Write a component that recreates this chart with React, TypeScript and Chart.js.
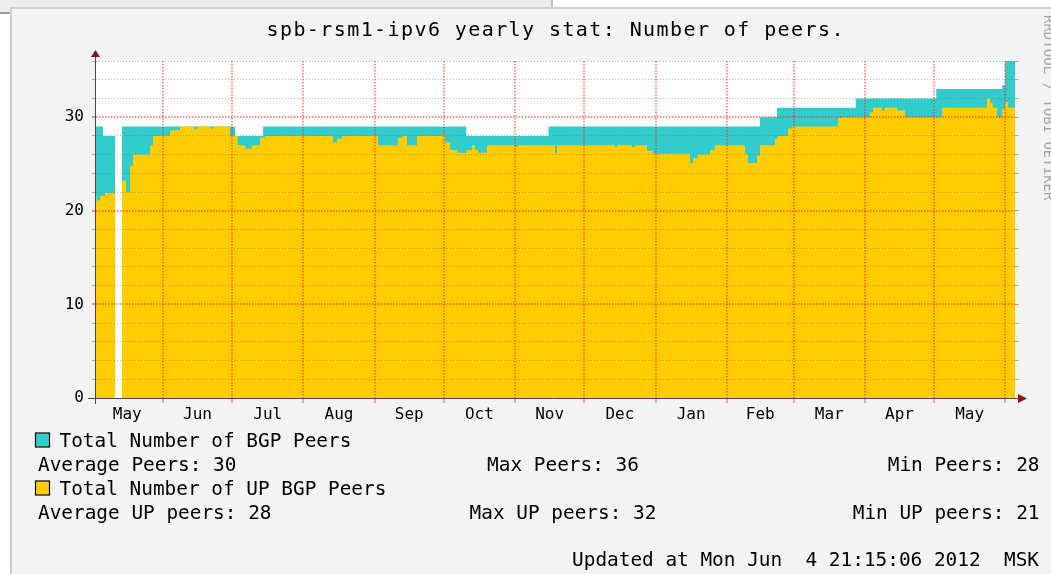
import React, { useEffect, useRef } from 'react';
import { Chart, registerables } from 'chart.js';

Chart.register(...registerables);

// ---------- data (days counted from 1 May 2011) ----------
const TITLE = 'spb-rsm1-ipv6 yearly stat: Number of peers.';
const MONTH_LABELS = ['May', 'Jun', 'Jul', 'Aug', 'Sep', 'Oct', 'Nov', 'Dec', 'Jan', 'Feb', 'Mar', 'Apr', 'May'];
const MONTH_STARTS = [0, 31, 61, 92, 123, 153, 184, 214, 245, 276, 305, 336, 366, 397];
const RANGE_START = 1.9;
const RANGE_END = 401.2;

const Y_MAX = 36;
const Y_STEP = 2;
const Y_LABEL_EVERY = 10;

const TOTAL_LABEL = 'Total Number of BGP Peers';
const TOTAL_DAYS = [1.9, 4.9, 10.2, 13.2, 62.3, 74.5, 162.8, 198.5, 290.4, 297.8, 332.0, 367.0, 395.6, 396.9];
const TOTAL_PEERS = [29, 28, null, 29, 28, 29, 28, 29, 30, 31, 32, 33, 33.4, 36];

const UP_LABEL = 'Total Number of UP BGP Peers';
const UP_DAYS = [
  1.9, 2.2, 3.7, 5.8, 10.2, 13.2, 14.9, 16.7, 18.0, 25.4, 26.7, 34.1, 38.4, 44.5, 46.0, 51.5, 53.0,
  60.1, 63.4, 66.9, 69.5, 73.2, 75.3, 104.9, 106.6, 108.8, 124.4, 133.1, 134.9, 137.0, 141.4,
  153.5, 155.7, 158.8, 163.1, 165.3, 166.6, 167.9, 171.8, 184.0, 185.3, 201.3, 202.2, 227.4, 228.3,
  234.8, 236.1, 241.3, 243.9, 260.0, 261.3, 263.5, 268.7, 270.8, 283.9, 285.2, 289.1, 290.4, 296.9,
  298.2, 302.6, 304.3, 324.3, 326.0, 338.2, 339.5, 343.4, 344.7, 349.9, 353.4, 369.5, 389.0, 390.3,
  391.6, 393.4, 395.6, 396.9, 398.2,
];
const UP_PEERS = [
  22, 21.1, 21.6, 21.9, null, 23.2, 22, 24.8, 26, 27, 28, 28.6, 29, 28.7, 29, 28.8, 29,
  28, 27, 26.6, 27, 27.8, 28, 27.3, 27.7, 28, 27, 27.8, 28, 27, 28,
  27.3, 26.5, 26.2, 26.5, 27, 26.5, 26.2, 27, 26.8, 27, 26.2, 27, 26.8, 27,
  26.8, 27, 26.4, 26.1, 25.1, 25.6, 26, 26.5, 27, 26, 25.1, 25.9, 27, 27.7,
  28, 28.8, 29, 29.9, 30, 30.5, 31, 30.7, 31, 30.7, 30, 31, 32, 31.5,
  31, 30, 30.9, 31.6, 31,
];

const TOTAL_STATS = ['Average Peers: 30', 'Max Peers: 36', 'Min Peers: 28'];
const UP_STATS = ['Average UP peers: 28', 'Max UP peers: 32', 'Min UP peers: 21'];
const UPDATED_TEXT = 'Updated at Mon Jun  4 21:15:06 2012  MSK';
const WATERMARK = 'RRDTOOL / TOBI OETIKER';

// ---------- styles ----------
const MONO = "'DejaVu Sans Mono', monospace";
const CYAN = '#33CCCC';
const YELLOW = '#FFCC00';
const RED_GRID = 'rgba(255,30,30,0.5)';
const GRAY_GRID = 'rgba(110,110,110,0.5)';
const AXIS_COLOR = '#4a4a4a';
const ARROW_COLOR = '#8c1414';

type Pt = { x: number; y: number | null };

function toSteps(days: number[], values: (number | null)[], end: number): Pt[] {
  const pts: Pt[] = [];
  for (let i = 0; i < days.length; i++) {
    const next = i + 1 < days.length ? days[i + 1] : end;
    const v = values[i];
    if (v === null) {
      pts.push({ x: days[i], y: null });
      continue;
    }
    pts.push({ x: days[i], y: v }, { x: next, y: v });
  }
  return pts;
}

const MONTH_MIDS = MONTH_STARTS.slice(0, -1).map((s, i) => (s + MONTH_STARTS[i + 1]) / 2);

const isMajor = (ctx: any) => {
  const v = ctx.tick ? ctx.tick.value : 0;
  return v % Y_LABEL_EVERY === 0;
};
const gridColor = (ctx: any) => {
  const v = ctx.tick ? ctx.tick.value : 0;
  if (v === 0) return 'rgba(0,0,0,0)';
  return isMajor(ctx) ? RED_GRID : GRAY_GRID;
};
const gridWidth = (ctx: any) => (isMajor(ctx) ? 2 : 1);
const gridDash = (ctx: any) => (isMajor(ctx) ? [1.5, 1.5] : [1, 2]);

const framePlugin = {
  id: 'frame',
  beforeDraw(chart: any) {
    const { ctx, chartArea: ca, width, height } = chart;
    ctx.save();
    ctx.fillStyle = '#ffffff';
    ctx.fillRect(0, 0, width, height);
    ctx.fillStyle = '#ededed';
    ctx.fillRect(0, 0, 552, 7);
    ctx.fillRect(0, 7, 10, 5);
    ctx.fillStyle = '#c4c4c4';
    ctx.fillRect(551, 0, 2, 7);
    ctx.fillStyle = '#9a9a9a';
    ctx.fillRect(0, 12, 10, 2);
    ctx.fillStyle = '#f3f3f3';
    ctx.fillRect(12, 9, width - 12, height - 9);
    ctx.fillStyle = '#d0d0d0';
    ctx.fillRect(10, 7, width - 10, 2);
    ctx.fillRect(10, 7, 2, height - 7);
    ctx.fillStyle = '#ffffff';
    ctx.fillRect(ca.left, ca.top, ca.right - ca.left, ca.bottom - ca.top);
    ctx.restore();
  },
  afterDraw(chart: any) {
    const { ctx, chartArea: ca } = chart;
    ctx.save();
    // axes
    ctx.strokeStyle = AXIS_COLOR;
    ctx.lineWidth = 1;
    ctx.beginPath();
    ctx.moveTo(ca.left - 0.5, ca.bottom + 6);
    ctx.lineTo(ca.left - 0.5, ca.top - 4);
    ctx.moveTo(ca.left - 8, ca.bottom + 0.5);
    ctx.lineTo(ca.right + 4, ca.bottom + 0.5);
    ctx.stroke();
    ctx.fillStyle = ARROW_COLOR;
    ctx.beginPath();
    ctx.moveTo(ca.left - 5, ca.top - 4);
    ctx.lineTo(ca.left + 4, ca.top - 4);
    ctx.lineTo(ca.left - 0.5, ca.top - 11);
    ctx.closePath();
    ctx.fill();
    ctx.beginPath();
    ctx.moveTo(ca.right + 3, ca.bottom - 4);
    ctx.lineTo(ca.right + 3, ca.bottom + 5);
    ctx.lineTo(ca.right + 12, ca.bottom + 0.5);
    ctx.closePath();
    ctx.fill();

    // title (wide monospaced cells)
    ctx.fillStyle = '#000';
    ctx.font = `20px ${MONO}`;
    ctx.textBaseline = 'alphabetic';
    ctx.textAlign = 'left';
    const adv = 13.45;
    for (let i = 0; i < TITLE.length; i++) {
      ctx.fillText(TITLE[i], 266.5 + i * adv, 36);
    }

    // legend
    const ds = chart.data.datasets;
    ctx.font = `19.4px ${MONO}`;
    const rows = [
      { color: ds[0].backgroundColor, label: ds[0].label, stats: TOTAL_STATS, y: 447 },
      { color: ds[1].backgroundColor, label: ds[1].label, stats: UP_STATS, y: 495 },
    ];
    rows.forEach((r) => {
      ctx.fillStyle = r.color;
      ctx.fillRect(36, r.y - 13.5, 13, 13);
      ctx.strokeStyle = '#000';
      ctx.lineWidth = 1.2;
      ctx.strokeRect(35.5, r.y - 14, 14, 14);
      ctx.fillStyle = '#000';
      ctx.textAlign = 'left';
      ctx.fillText(r.label, 59.5, r.y);
      const sy = r.y + 24;
      ctx.textAlign = 'left';
      ctx.fillText(r.stats[0], 38, sy);
      ctx.textAlign = 'center';
      ctx.fillText(r.stats[1], 563, sy);
      ctx.textAlign = 'right';
      ctx.fillText(r.stats[2], 1039.5, sy);
    });
    ctx.textAlign = 'right';
    ctx.fillText(UPDATED_TEXT, 1039, 566);

    // watermark
    ctx.translate(1044, 15);
    ctx.rotate(Math.PI / 2);
    ctx.font = `14px ${MONO}`;
    ctx.fillStyle = '#a6a6a6';
    ctx.textAlign = 'left';
    ctx.fillText(WATERMARK, 0, 0);
    ctx.restore();
  },
};

export default function App() {
  const ref = useRef<HTMLCanvasElement>(null);
  useEffect(() => {
    if (!ref.current) return;
    const chart = new Chart(ref.current, {
      type: 'line',
      data: {
        datasets: [
          {
            label: TOTAL_LABEL,
            data: toSteps(TOTAL_DAYS, TOTAL_PEERS, RANGE_END) as any,
            backgroundColor: CYAN,
            borderColor: CYAN,
            borderWidth: 0,
            pointRadius: 0,
            fill: 'origin',
            tension: 0,
            spanGaps: false,
            order: 2,
          },
          {
            label: UP_LABEL,
            data: toSteps(UP_DAYS, UP_PEERS, RANGE_END) as any,
            backgroundColor: YELLOW,
            borderColor: YELLOW,
            borderWidth: 0,
            pointRadius: 0,
            fill: 'origin',
            tension: 0,
            spanGaps: false,
            order: 1,
          },
        ],
      },
      options: {
        animation: false,
        responsive: false,
        devicePixelRatio: 1,
        events: [],
        layout: { padding: { top: 61, left: 0, right: 0, bottom: 0 } },
        plugins: { legend: { display: false }, tooltip: { enabled: false }, title: { display: false } },
        scales: {
          x: {
            type: 'linear',
            position: 'bottom',
            weight: 0,
            min: RANGE_START,
            max: RANGE_END,
            afterBuildTicks: (s: any) => {
              s.ticks = MONTH_STARTS.filter((v) => v >= RANGE_START && v <= RANGE_END).map((v) => ({ value: v }));
            },
            afterFit: (s: any) => {
              s.height = 5;
            },
            ticks: { autoSkip: false, maxRotation: 0, callback: () => '' },
            grid: { color: RED_GRID, z: 1, tickLength: 5, lineWidth: 2, tickWidth: 1.5 },
            border: { display: false, dash: [1.5, 1.5] },
          },
          xl: {
            type: 'linear',
            position: 'bottom',
            weight: 1,
            min: RANGE_START,
            max: RANGE_END,
            afterBuildTicks: (s: any) => {
              s.ticks = MONTH_MIDS.map((v) => ({ value: v }));
            },
            afterFit: (s: any) => {
              s.height = 171;
            },
            ticks: {
              autoSkip: false,
              maxRotation: 0,
              padding: 2,
              color: '#000',
              font: { family: MONO, size: 16 },
              callback: (_v: any, i: number) => MONTH_LABELS[i],
            },
            grid: { display: false, drawTicks: false },
            border: { display: false },
          },
          y: {
            type: 'linear',
            position: 'left',
            min: 0,
            max: Y_MAX,
            afterFit: (s: any) => {
              s.width = 96;
            },
            ticks: {
              stepSize: Y_STEP,
              autoSkip: false,
              padding: 8,
              color: '#000',
              font: { family: MONO, size: 16 },
              callback: (v: any) => (Number(v) % Y_LABEL_EVERY === 0 ? String(v) : ''),
            },
            grid: { color: gridColor, z: 1, tickLength: 4, lineWidth: gridWidth },
            border: { display: false, dash: gridDash },
          },
          y2: {
            type: 'linear',
            position: 'right',
            min: 0,
            max: Y_MAX,
            afterFit: (s: any) => {
              s.width = 36;
            },
            ticks: { stepSize: Y_STEP, autoSkip: false, callback: () => '' },
            grid: { color: gridColor, drawOnChartArea: false, tickLength: 4, lineWidth: 1 },
            border: { display: false },
          },
        },
      },
      plugins: [framePlugin],
    } as any);
    return () => chart.destroy();
  }, []);
  return (
    <div style={{ position: 'absolute', left: 0, top: 0, width: 1051, height: 574, overflow: 'hidden' }}>
      <canvas ref={ref} width={1051} height={574} style={{ display: 'block', width: 1051, height: 574 }} />
    </div>
  );
}
